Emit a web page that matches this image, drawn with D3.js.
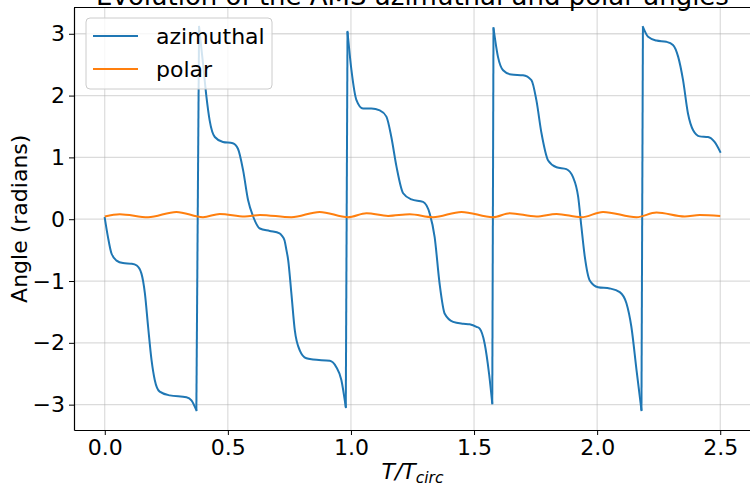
<!DOCTYPE html>
<html>
<head>
<meta charset="utf-8">
<script src="https://cdn.jsdelivr.net/npm/d3@7"></script>
<style>
  body { margin: 0; background: #fff; }
  svg { display: block; }
  text { font-family: "DejaVu Sans", sans-serif; fill: #000; }
</style>
</head>
<body>
<svg id="chart" width="750" height="485"></svg>
<script>
// Time in units of the circular period, angles in radians
const azimuthalT = [
  0, 0.013, 0.027, 0.048, 0.074, 0.11, 0.13, 0.149, 0.163, 0.176, 0.19, 0.203, 0.223, 0.264, 0.332, 0.352, 0.372,
  0.383, 0.399, 0.413, 0.426, 0.447, 0.48, 0.52, 0.541, 0.562, 0.582, 0.603, 0.63, 0.67, 0.71, 0.72, 0.73, 0.738, 0.745, 0.758, 0.772, 0.792, 0.819, 0.846, 0.914, 0.94, 0.961, 0.979,
  0.986, 1.002, 1.022, 1.049, 1.083, 1.117, 1.144, 1.164, 1.185, 1.212, 1.246, 1.293, 1.32, 1.34, 1.36, 1.381, 1.415, 1.456, 1.482, 1.51, 1.523, 1.543, 1.561, 1.574,
  1.579, 1.597, 1.618, 1.652, 1.699, 1.733, 1.753, 1.774, 1.801, 1.835, 1.875, 1.902, 1.923, 1.936, 1.95, 1.97, 2.004, 2.051, 2.092, 2.119, 2.139, 2.16, 2.18,
  2.186, 2.207, 2.241, 2.281, 2.308, 2.329, 2.349, 2.369, 2.39, 2.417, 2.45, 2.477, 2.5
];
const azimuthalAngle = [
  0.02, -0.29, -0.55, -0.67, -0.71, -0.72, -0.75, -0.88, -1.2, -1.74, -2.28, -2.6, -2.79, -2.85, -2.88, -2.93, -3.09,
  3.11, 2.52, 1.98, 1.6, 1.33, 1.25, 1.23, 1.14, 0.79, 0.31, 0.04, -0.15, -0.19, -0.23, -0.27, -0.34, -0.5, -0.66, -1.2, -1.8, -2.12, -2.25, -2.27, -2.29, -2.39, -2.6, -3.04,
  3.03, 2.41, 1.93, 1.79, 1.79, 1.76, 1.66, 1.33, 0.85, 0.42, 0.32, 0.28, 0.09, -0.29, -1.04, -1.53, -1.66, -1.69, -1.70, -1.74, -1.77, -2.01, -2.5, -2.98,
  3.09, 2.63, 2.41, 2.34, 2.33, 2.25, 1.93, 1.39, 0.95, 0.84, 0.81, 0.68, 0.36, -0.12, -0.61, -0.99, -1.1, -1.12, -1.18, -1.36, -1.74, -2.44, -3.09,
  3.11, 2.95, 2.89, 2.87, 2.82, 2.63, 2.25, 1.71, 1.44, 1.34, 1.33, 1.25, 1.09
];
const polarT = [
  0, 0.061, 0.176, 0.291, 0.399, 0.467, 0.569, 0.63, 0.758, 0.873, 0.988, 1.063, 1.151, 1.239, 1.333, 1.449,
  1.577, 1.645, 1.753, 1.835, 1.936, 2.024, 2.16, 2.241, 2.356, 2.417, 2.5
];
const polarAngle = [
  0.044, 0.081, 0.032, 0.118, 0.032, 0.086, 0.044, 0.07, 0.032, 0.118, 0.032, 0.097, 0.053, 0.08, 0.032, 0.118,
  0.032, 0.097, 0.044, 0.086, 0.032, 0.118, 0.032, 0.108, 0.044, 0.07, 0.053
];
const xTicks = [0, 0.5, 1.0, 1.5, 2.0, 2.5];
const yTicks = [-3, -2, -1, 0, 1, 2, 3];
const seriesNames = ["azimuthal", "polar"];
const seriesColors = ["#1f77b4", "#ff7f0e"];
const titleText = "Evolution of the AMS azimuthal and polar angles";
const yLabelText = "Angle (radians)";

const svg = d3.select("#chart");
const plot = { left: 74, right: 751, top: 7.5, bottom: 430 };
const FS = 22;

const x = d3.scaleLinear().domain([-0.125, 2.625]).range([plot.left, plot.right]);
const y = d3.scaleLinear().domain([-3.41, 3.425]).range([plot.bottom, plot.top]);

// clip region for the plotted data
svg.append("defs").append("clipPath").attr("id", "plotClip")
  .append("rect")
  .attr("x", plot.left).attr("y", plot.top)
  .attr("width", plot.right - plot.left).attr("height", plot.bottom - plot.top);

// grid
const grid = svg.append("g");
grid.selectAll("line.gx").data(xTicks).join("line")
  .attr("x1", d => x(d)).attr("x2", d => x(d))
  .attr("y1", plot.top).attr("y2", plot.bottom)
  .attr("stroke", "#b0b0b0").attr("stroke-opacity", 0.55).attr("stroke-width", 1);
grid.selectAll("line.gy").data(yTicks).join("line")
  .attr("x1", plot.left).attr("x2", plot.right)
  .attr("y1", d => y(d)).attr("y2", d => y(d))
  .attr("stroke", "#b0b0b0").attr("stroke-opacity", 0.45).attr("stroke-width", 1.3);

const data = svg.append("g").attr("clip-path", "url(#plotClip)");

// azimuthal angle: smooth branches, joined by straight wrap segments at ±π
const azPts = azimuthalT.map((t, i) => [t, azimuthalAngle[i]]);
const branches = [[azPts[0]]];
const wraps = [];
for (let i = 1; i < azPts.length; i++) {
  if (Math.abs(azPts[i][1] - azPts[i - 1][1]) > Math.PI) {
    wraps.push([azPts[i - 1], azPts[i]]);
    branches.push([]);
  }
  branches[branches.length - 1].push(azPts[i]);
}
const smooth = d3.line().x(d => x(d[0])).y(d => y(d[1])).curve(d3.curveMonotoneX);
const straight = d3.line().x(d => x(d[0])).y(d => y(d[1]));

data.selectAll("path.azb").data(branches).join("path")
  .attr("d", smooth)
  .attr("fill", "none").attr("stroke", seriesColors[0]).attr("stroke-width", 2)
  .attr("stroke-linejoin", "round").attr("stroke-linecap", "square");
data.selectAll("path.azw").data(wraps).join("path")
  .attr("d", straight)
  .attr("fill", "none").attr("stroke", seriesColors[0]).attr("stroke-width", 2);

// polar angle
const polPts = polarT.map((t, i) => [t, polarAngle[i]]);
data.append("path").datum(polPts)
  .attr("d", smooth)
  .attr("fill", "none").attr("stroke", seriesColors[1]).attr("stroke-width", 2);

// axes
const xAxis = d3.axisBottom(x).tickValues(xTicks).tickFormat(d3.format(".1f"))
  .tickSize(5).tickSizeOuter(0).tickPadding(4);
const yAxis = d3.axisLeft(y).tickValues(yTicks).tickFormat(d3.format("d"))
  .tickSize(5).tickSizeOuter(0).tickPadding(4);

const gx = svg.append("g").attr("transform", `translate(0,${plot.bottom})`).call(xAxis);
const gy = svg.append("g").attr("transform", `translate(${plot.left},0)`).call(yAxis);
[gx, gy].forEach(g => {
  g.selectAll("text").attr("font-size", FS).attr("font-family", "DejaVu Sans").attr("fill", "#000");
  g.selectAll("line").attr("stroke", "#000").attr("stroke-width", 1);
  g.select(".domain").attr("stroke", "#000").attr("stroke-width", 1.2);
});

// top and right spines
svg.append("line").attr("x1", plot.left).attr("x2", plot.right)
  .attr("y1", plot.top).attr("y2", plot.top).attr("stroke", "#000").attr("stroke-width", 1.2);
svg.append("line").attr("x1", plot.right).attr("x2", plot.right)
  .attr("y1", plot.top).attr("y2", plot.bottom).attr("stroke", "#000").attr("stroke-width", 1.2);

// title
svg.append("text")
  .attr("x", (plot.left + plot.right) / 2).attr("y", 5)
  .attr("text-anchor", "middle").attr("font-size", 26)
  .text(titleText);

// axis labels
const xl = svg.append("text")
  .attr("x", (plot.left + plot.right) / 2).attr("y", 479)
  .attr("text-anchor", "middle").attr("font-size", FS).attr("font-style", "italic");
xl.append("tspan").text("T/T");
xl.append("tspan").attr("font-size", 15.5).attr("dy", 4).text("circ");

svg.append("text")
  .attr("transform", `translate(27,${(plot.top + plot.bottom) / 2}) rotate(-90)`)
  .attr("text-anchor", "middle").attr("font-size", FS)
  .text(yLabelText);

// legend
const lg = svg.append("g");
lg.append("rect")
  .attr("x", 86).attr("y", 18).attr("width", 186).attr("height", 71).attr("rx", 4)
  .attr("fill", "#fff").attr("fill-opacity", 0.8)
  .attr("stroke", "#cccccc").attr("stroke-width", 1);
const items = lg.selectAll("g.item").data(seriesNames).join("g")
  .attr("transform", (d, i) => `translate(0,${36 + i * 33})`);
items.append("line").attr("x1", 93).attr("x2", 138).attr("y1", 0).attr("y2", 0)
  .attr("stroke", (d, i) => seriesColors[i]).attr("stroke-width", 2);
items.append("text").attr("x", 156).attr("y", 8).attr("font-size", FS).text(d => d);
</script>
</body>
</html>
